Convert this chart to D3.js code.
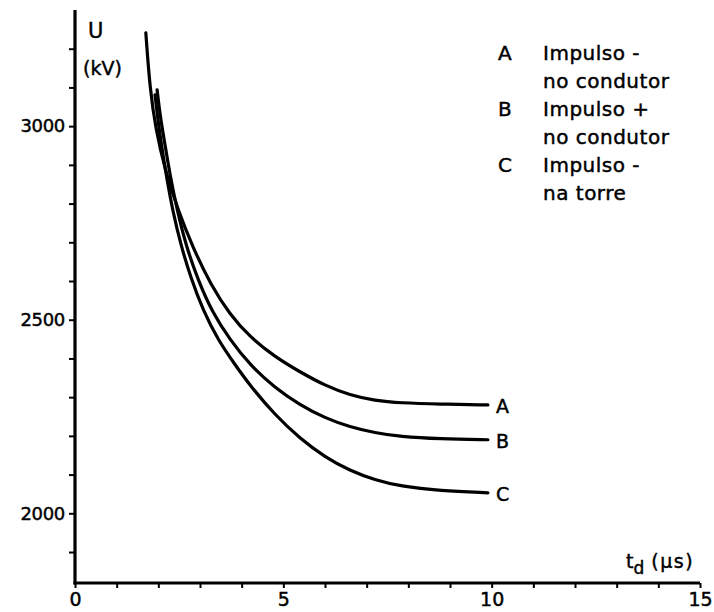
<!DOCTYPE html>
<html>
<head>
<meta charset="utf-8">
<script src="https://cdn.jsdelivr.net/npm/d3@7"></script>
<style>
  html, body { margin: 0; padding: 0; background: #fff; }
  svg { display: block; }
  text { font-family: "DejaVu Sans", sans-serif; fill: #000; stroke: #000; stroke-width: 0.45px; }
</style>
</head>
<body>
<svg id="chart" width="714" height="612"></svg>
<script>
// ---- data (t_d in µs, U in kV) ----
const curveA = [[1.70,3241],[1.80,3094],[1.94,2991],[2.16,2887],[2.47,2784],[2.83,2686],[3.26,2590],[3.72,2513],[4.20,2455],[4.80,2404],[5.40,2365],[6.00,2330],[6.60,2305],[7.20,2291],[7.80,2285],[8.76,2282],[9.91,2280]];
const curveB = [[1.97,3094],[2.04,3029],[2.16,2952],[2.28,2874],[2.45,2784],[2.66,2693],[2.95,2603],[3.29,2520],[3.72,2448],[4.20,2383],[4.80,2324],[5.40,2280],[6.00,2246],[6.60,2223],[7.20,2208],[7.80,2198],[8.76,2192],[9.91,2190]];
const curveC = [[1.92,3081],[1.99,3016],[2.09,2939],[2.21,2861],[2.35,2779],[2.54,2693],[2.78,2608],[3.07,2525],[3.43,2448],[3.84,2384],[4.20,2330],[4.80,2254],[5.40,2193],[6.00,2145],[6.60,2110],[7.20,2086],[7.80,2070],[8.76,2058],[9.91,2053]];
const seriesNames = ["A","B","C"];
const xTickLabels = [0,5,10,15];
const yTickLabels = [2000,2500,3000];
const legendLines = [
  ["A","Impulso -"],["","no condutor"],
  ["B","Impulso +"],["","no condutor"],
  ["C","Impulso -"],["","na torre"]
];

const svg = d3.select("#chart");
const x = d3.scaleLinear().domain([0,15]).range([75,700]);
const y = d3.scaleLinear().domain([1820,3300]).range([583,10]);

// Y axis
const yAxis = d3.axisLeft(y)
  .tickValues(d3.range(1900,3201,100))
  .tickSize(6)
  .tickPadding(4)
  .tickFormat(d => yTickLabels.includes(d) ? d : "");
const gy = svg.append("g").attr("transform",`translate(${x(0)},0)`).call(yAxis);
gy.select(".domain").remove();
gy.selectAll(".tick line").attr("stroke","#000").attr("stroke-width",2);
gy.selectAll(".tick text").attr("font-size",18).attr("font-family","DejaVu Sans").attr("letter-spacing","-0.3px").attr("fill","#000");
svg.append("line").attr("x1",x(0)).attr("x2",x(0)).attr("y1",y(1820)+1.5).attr("y2",y(3300))
  .attr("stroke","#000").attr("stroke-width",3.2);

// X axis
const xAxis = d3.axisBottom(x)
  .tickValues(d3.range(0,16,1))
  .tickSize(5)
  .tickPadding(5)
  .tickFormat(d => xTickLabels.includes(d) ? d : "");
const gx = svg.append("g").attr("transform",`translate(0,${y(1820)})`).call(xAxis);
gx.select(".domain").remove();
gx.selectAll(".tick line").attr("stroke","#000").attr("stroke-width",2);
gx.selectAll(".tick text").attr("font-size",19).attr("font-family","DejaVu Sans").attr("fill","#000");
svg.append("line").attr("x1",x(0)-1.5).attr("x2",x(15)).attr("y1",y(1820)).attr("y2",y(1820))
  .attr("stroke","#000").attr("stroke-width",3);

// axis titles
svg.append("text").attr("x",88).attr("y",38).attr("font-size",21).text("U");
svg.append("text").attr("x",83).attr("y",75).attr("font-size",19).text("(kV)");
const xt = svg.append("text").attr("x",626).attr("y",568).attr("font-size",19);
xt.append("tspan").text("t");
xt.append("tspan").attr("dy",6).attr("font-size",17).text("d");
xt.append("tspan").attr("dy",-6).attr("dx",7).attr("letter-spacing","1.5px").text("(μs)");

// curves
const line = d3.line().x(d => x(d[0])).y(d => y(d[1])).curve(d3.curveBasis);
const curves = [curveA, curveB, curveC];
curves.forEach((c,i) => {
  svg.append("path").datum(c).attr("d",line)
    .attr("fill","none").attr("stroke","#000").attr("stroke-width",3.2).attr("stroke-linecap","round");
  const last = c[c.length-1];
  svg.append("text").attr("x",x(last[0])+8).attr("y",y(last[1])+1)
    .attr("dominant-baseline","central").attr("font-size",19).text(seriesNames[i]);
});

// legend
legendLines.forEach((l,i) => {
  const by = 60 + i*28;
  if (l[0]) svg.append("text").attr("x",498).attr("y",by).attr("font-size",20).text(l[0]);
  svg.append("text").attr("x",543).attr("y",by).attr("font-size",20).attr("letter-spacing","0.5px").text(l[1]);
});
</script>
</body>
</html>
